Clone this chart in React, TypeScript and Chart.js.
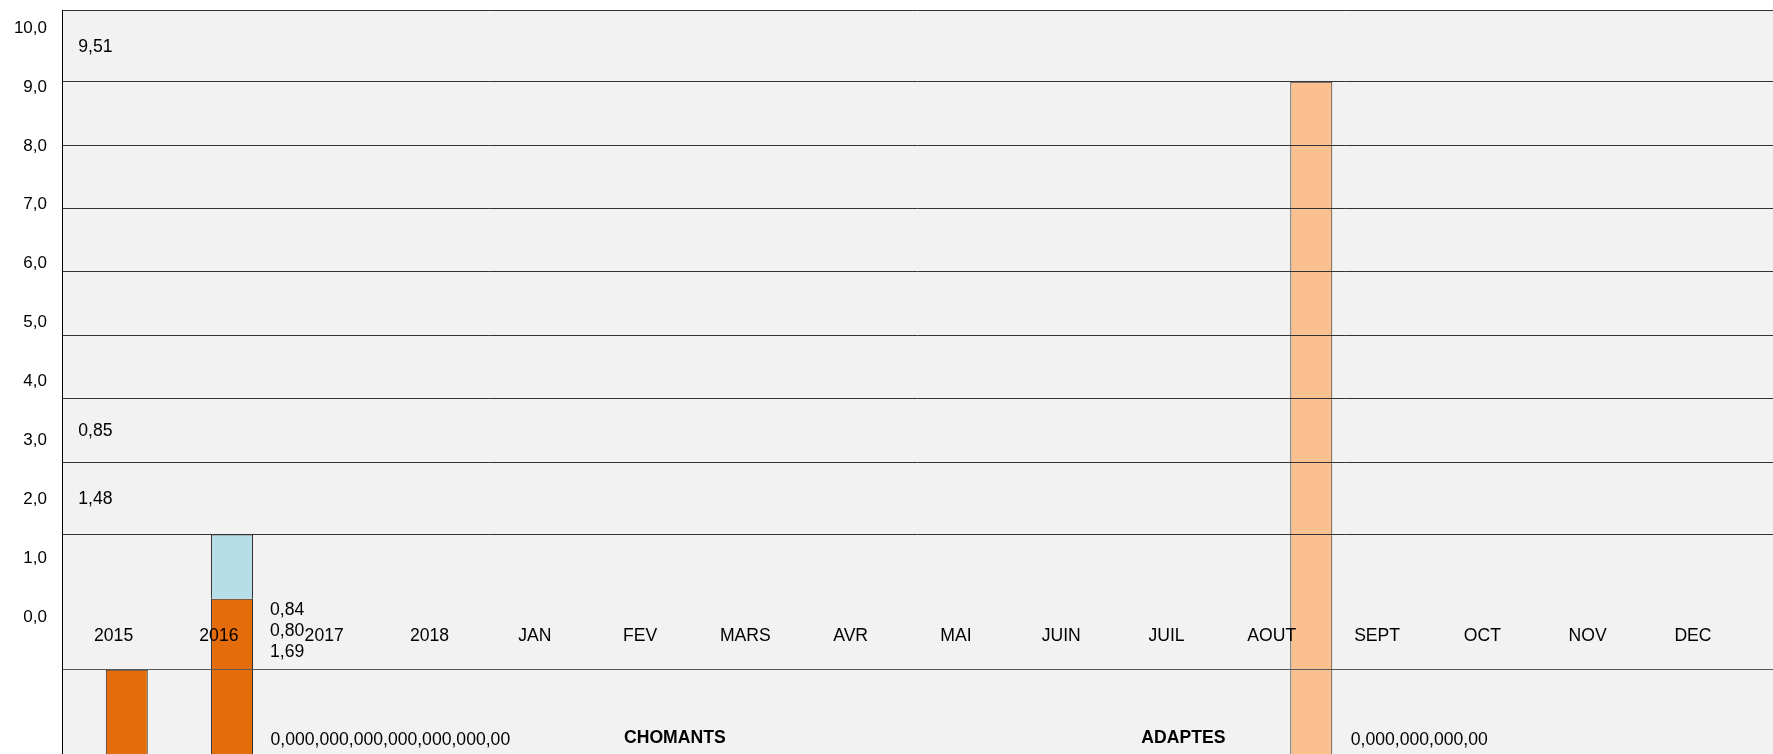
import { useEffect, useRef } from 'react';
import { Chart, registerables } from 'chart.js';

Chart.register(...registerables);

// ---------- data ----------
const categories = ['2015', '2016', '2017', '2018', 'JAN', 'FEV', 'MARS', 'AVR', 'MAI', 'JUIN', 'JUIL', 'AOUT', 'SEPT', 'OCT', 'NOV', 'DEC'];

// zero-valued series (their labels show 0,00)
const chomantsSeries = [0, 0, 0, 0, 0, 0, 0, 0, 0, 0, 0, 0, 0, 0, 0, 0];
const adaptesSeries = [0, 0, 0, 0, 0, 0, 0, 0, 0, 0, 0, 0, 0, 0, 0, 0];
// visible bars
const orangeSeries: (number | null)[] = [-0.27, 0.85, null, null, null, null, null, null, null, null, null, null, null, null, null, null];
const blueSeries: (number | null)[] = [null, 1.01, null, null, null, null, null, null, null, null, null, null, null, null, null, null];
const peachSeries: (number | null)[] = [null, null, null, null, null, null, null, null, null, null, null, 9.0, null, null, null, null];

// left axis tick labels (0,0 ... 10,0)
const leftTickValues = [0, 1, 2, 3, 4, 5, 6, 7, 8, 9, 10];
// horizontal grid lines on the bar axis
const gridValues = [9, 8, 7, 6, 5, 4, 3, 1.86];

// value labels written in the plot
const valueLabels = [
  { text: '9,51', x: -0.335, y: 9.54, align: 'left', bold: false },
  { text: '0,85', x: -0.335, y: 3.49, align: 'left', bold: false },
  { text: '1,48', x: -0.335, y: 2.42, align: 'left', bold: false },
  { text: '0,84', x: 1.485, y: 0.67, align: 'left', bold: false },
  { text: '0,80', x: 1.485, y: 0.345, align: 'left', bold: false },
  { text: '1,69', x: 1.485, y: 0.013, align: 'left', bold: false },
  { text: '0,000,000,000,000,000,000,00', x: 1.49, y: -1.379, align: 'left', bold: false },
  { text: 'CHOMANTS', x: 5.33, y: -1.35, align: 'center', bold: true },
  { text: 'ADAPTES', x: 10.16, y: -1.35, align: 'center', bold: true },
  { text: '0,000,000,000,00', x: 11.75, y: -1.379, align: 'left', bold: false },
];

// ---------- axis ranges ----------
const X_MIN = -0.49;
const X_MAX = 15.76;
const Y_MIN = -0.267;
const Y_MAX = 10.13;
const L_MIN = -0.891;
const L_MAX = 10.306;
const BAR_BASE = -2;

const FONT = "'Liberation Sans', Arial, Helvetica, sans-serif";
const FONT_SIZE = 17;
const TEXT_SIZE = 17.6;

const toPoints = (arr: (number | null)[]) =>
  arr.flatMap((v, i) => (v === null ? [] : [{ x: i, y: v }]));

const noPad = (s: any) => {
  s.paddingTop = 0;
  s.paddingBottom = 0;
  s.paddingLeft = 0;
  s.paddingRight = 0;
};

const backgroundPlugin = {
  id: 'plotBackground',
  beforeDraw(chart: any) {
    const { ctx, chartArea, width, height } = chart;
    ctx.save();
    ctx.fillStyle = '#ffffff';
    ctx.fillRect(0, 0, width, height);
    ctx.fillStyle = '#F2F2F2';
    ctx.fillRect(chartArea.left, chartArea.top, width - chartArea.left, height - chartArea.top);
    ctx.restore();
  },
  afterDraw(chart: any) {
    const { ctx, chartArea, height } = chart;
    ctx.save();
    ctx.strokeStyle = '#000000';
    ctx.lineWidth = 1;
    ctx.beginPath();
    ctx.moveTo(chartArea.left + 0.5, chartArea.top);
    ctx.lineTo(chartArea.left + 0.5, height);
    ctx.stroke();
    ctx.restore();
  },
};

const valueLabelPlugin = {
  id: 'valueLabels',
  afterDraw(chart: any) {
    const { ctx } = chart;
    const xs = chart.scales.x;
    const ys = chart.scales.y;
    ctx.save();
    ctx.fillStyle = '#000000';
    ctx.textBaseline = 'middle';
    for (const l of valueLabels) {
      ctx.font = `${l.bold ? 'bold ' : ''}${TEXT_SIZE}px ${FONT}`;
      ctx.textAlign = l.align;
      ctx.fillText(l.text, xs.getPixelForValue(l.x), ys.getPixelForValue(l.y));
    }
    ctx.restore();
  },
};

export default function App() {
  const canvasRef = useRef<HTMLCanvasElement | null>(null);

  useEffect(() => {
    document.body.style.margin = '0';
    const canvas = canvasRef.current;
    if (!canvas) return;

    Chart.defaults.font.family = FONT;
    Chart.defaults.font.size = FONT_SIZE;
    Chart.defaults.color = '#000000';

    const barBorder = '#262626';
    const axes = { xAxisID: 'x', yAxisID: 'y' };

    const chart = new Chart(canvas, {
      type: 'bar',
      data: {
        datasets: [
          { ...axes, label: 'CHOMANTS', data: toPoints(chomantsSeries), stack: 'c', backgroundColor: 'rgba(0,0,0,0)', borderWidth: 0 },
          { ...axes, label: 'ADAPTES', data: toPoints(adaptesSeries), stack: 'd', backgroundColor: 'rgba(0,0,0,0)', borderWidth: 0 },
          { ...axes, label: 'Série 1', data: toPoints(orangeSeries), stack: 'a', base: BAR_BASE, backgroundColor: '#E46C0A', borderColor: barBorder, borderWidth: 1, clip: false },
          { ...axes, label: 'Série 2', data: toPoints(blueSeries), stack: 'a', backgroundColor: '#B7DEE8', borderColor: barBorder, borderWidth: 1, clip: false },
          { ...axes, label: 'Série 3', data: toPoints(peachSeries), stack: 'p', base: BAR_BASE, backgroundColor: '#FAC090', borderColor: barBorder, borderWidth: 1, clip: false },
        ] as any,
      },
      options: {
        animation: false,
        responsive: false,
        events: [],
        categoryPercentage: 1,
        barPercentage: 1.595,
        layout: { padding: { top: 10, left: 0, right: 0, bottom: 0 } },
        plugins: { legend: { display: false }, tooltip: { enabled: false }, title: { display: false } },
        scales: {
          x: {
            type: 'linear',
            position: 'bottom',
            offset: false,
            min: X_MIN,
            max: X_MAX,
            grid: { display: false, drawTicks: false, offset: false },
            border: { display: true, color: '#595959', width: 1, z: 1 },
            ticks: {
              z: 1,
              mirror: true,
              padding: 23,
              autoSkip: false,
              maxRotation: 0,
              minRotation: 0,
              color: '#000000',
              font: { size: TEXT_SIZE, family: FONT },
              callback: (v: any) => categories[v as number] ?? '',
            },
            afterBuildTicks: (s: any) => {
              s.ticks = categories.map((_, i) => ({ value: i }));
            },
            afterFit: (s: any) => {
              s.height = 84.5;
              noPad(s);
            },
          },
          y: {
            type: 'linear',
            position: 'left',
            min: Y_MIN,
            max: Y_MAX,
            grid: { display: true, color: '#333333', lineWidth: 1, drawTicks: false, z: 1 },
            border: { display: false },
            ticks: { display: false },
            afterBuildTicks: (s: any) => {
              s.ticks = [...gridValues, Y_MAX].map((v) => ({ value: v }));
            },
            afterFit: (s: any) => {
              s.width = 0;
              noPad(s);
            },
          },
          yLabels: {
            type: 'linear',
            position: 'left',
            min: L_MIN,
            max: L_MAX,
            grid: { display: false, drawTicks: false },
            border: { display: false },
            ticks: {
              padding: 15,
              color: '#000000',
              font: { size: FONT_SIZE, family: FONT },
              callback: (v: any) => Number(v).toFixed(1).replace('.', ','),
            },
            afterBuildTicks: (s: any) => {
              s.ticks = leftTickValues.map((v) => ({ value: v }));
            },
            afterFit: (s: any) => {
              s.width = 62;
              noPad(s);
            },
          },
        } as any,
      },
      plugins: [backgroundPlugin, valueLabelPlugin],
    });

    return () => {
      chart.destroy();
    };
  }, []);

  return <canvas ref={canvasRef} width={1773} height={754} style={{ display: 'block' }} />;
}
